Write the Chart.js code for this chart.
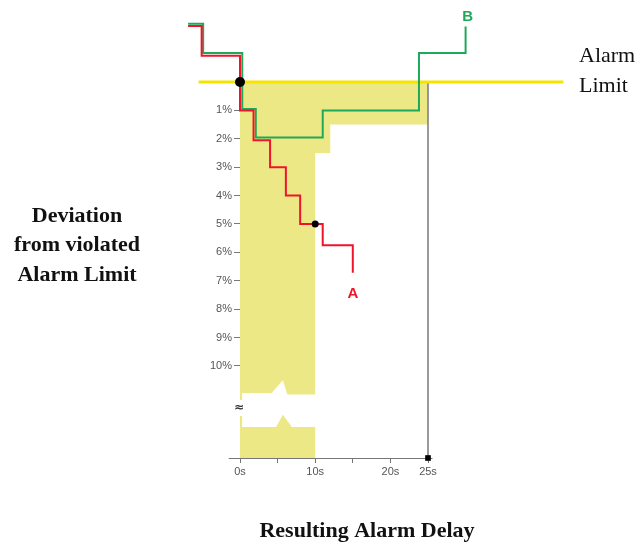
<!DOCTYPE html>
<html>
<head>
<meta charset="utf-8">
<script src="https://cdn.jsdelivr.net/npm/chart.js@4.4.1/dist/chart.umd.min.js"></script>
<style>
  html, body { margin: 0; padding: 0; background: #ffffff; }
  #wrap { width: 636px; height: 542px; }
</style>
</head>
<body>
<div id="wrap"><canvas id="chart" width="636" height="542"></canvas></div>
<script>
'use strict';

// axes
var X_TICKS  = [0, 5, 10, 15, 20, 25];
var X_LABELS = ['0s', '', '10s', '', '20s', '25s'];
var Y_TICKS  = [1, 2, 3, 4, 5, 6, 7, 8, 9, 10];
var Y_LABELS = ['1%', '2%', '3%', '4%', '5%', '6%', '7%', '8%', '9%', '10%'];
var Y_BOTTOM = 13.24;   // % deviation at the time axis (below the break)

// curve A (red), step points: seconds / % deviation
var RED_X = [-6.9, -5.1, 0, 1.8, 4.0, 6.1, 8.0, 11.0, 15.0];
var RED_Y = [-1.97, -0.92, 1.0, 2.05, 3.0, 4.0, 5.0, 5.75, 6.72];

// curve B (green)
var GREEN_X = [-6.9, -4.9, 0.3, 2.1, 11.0, 23.8, 30.0];
var GREEN_Y = [-2.05, -1.02, 0.95, 1.95, 1.0, -1.02, -1.95];

// alarm delay zone (yellow), outline of the zone below the limit
var ZONE_X = [0, 10, 10, 12, 12, 25];
var ZONE_Y = [Y_BOTTOM, Y_BOTTOM, 2.5, 2.5, 1.5, 1.5];

// alarm limit line
var LIMIT_X = [-5.5, 43];
var LIMIT_Y = [0, 0];

// markers
var DOT_X = [0, 10];
var DOT_Y = [0, 5];
var MAX_DELAY = 25;

function pts(xs, ys) {
    return xs.map(function (x, i) { return { x: x, y: ys[i] }; });
}

var SERIF = '"Liberation Serif", "Times New Roman", serif';
Chart.defaults.font.family = '"Liberation Sans", Arial, sans-serif';

/* Axis line of the time scale, drawn under the marks */
var timeAxisPlugin = {
    id: 'timeAxis',
    beforeDatasetsDraw: function (chart) {
        var ctx = chart.ctx;
        var xs = chart.scales.x, ys = chart.scales.y;
        var y = Math.round(ys.getPixelForValue(Y_BOTTOM)) + 0.5;
        ctx.save();
        ctx.strokeStyle = '#777777';
        ctx.lineWidth = 1;
        ctx.beginPath();
        ctx.moveTo(xs.getPixelForValue(-1.5), y);
        ctx.lineTo(xs.getPixelForValue(25.6), y);
        ctx.stroke();
        ctx.restore();
    }
};

/* Break on the y axis, annotations and titles */
var decorPlugin = {
    id: 'decor',
    afterDraw: function (chart) {
        var ctx = chart.ctx;
        var xs = chart.scales.x, ys = chart.scales.y;
        var px = function (v) { return xs.getPixelForValue(v); };
        var py = function (v) { return ys.getPixelForValue(v); };
        ctx.save();

        // torn gap in the yellow zone
        var gap = [[0.15, 10.95], [4.2, 10.95], [5.7, 10.5], [6.3, 11.0], [10.4, 11.0],
                   [10.4, 12.15], [6.9, 12.15], [5.7, 11.72], [4.8, 12.15], [0.15, 12.15]];
        ctx.fillStyle = '#ffffff';
        ctx.beginPath();
        gap.forEach(function (p, i) {
            var x = px(p[0]) + (p[0] < 1 ? 1 : 0);
            if (i === 0) ctx.moveTo(x, py(p[1]));
            else ctx.lineTo(x, py(p[1]));
        });
        ctx.closePath();
        ctx.fill();

        // gap in the axis and the break sign
        var ax = px(0);
        ctx.fillRect(ax - 4, py(11.2), 8, py(11.76) - py(11.2));
        ctx.fillStyle = '#333333';
        ctx.font = 'bold 12px "DejaVu Sans", sans-serif';
        ctx.textAlign = 'center';
        ctx.textBaseline = 'middle';
        ctx.fillText('\u2248', ax - 1, py(11.48));

        // curve labels
        ctx.font = 'bold 15px "Liberation Sans", Arial, sans-serif';
        ctx.fillStyle = '#f0142a';
        ctx.fillText('A', px(RED_X[RED_X.length - 1]), py(RED_Y[RED_Y.length - 1]) + 21);
        ctx.fillStyle = '#1ea85a';
        ctx.fillText('B', px(GREEN_X[GREEN_X.length - 1]) + 2, py(GREEN_Y[GREEN_Y.length - 1]) - 10);

        // titles
        ctx.fillStyle = '#111111';
        ctx.textBaseline = 'alphabetic';
        ctx.font = 'bold 22px ' + SERIF;
        ctx.fillText('Deviation', 77, 222);
        ctx.fillText('from violated', 77, 251);
        ctx.fillText('Alarm Limit', 77, 281);
        ctx.fillText('Resulting Alarm Delay', 367, 537);

        ctx.textAlign = 'left';
        ctx.font = '22px ' + SERIF;
        ctx.fillText('Alarm', 579, 62);
        ctx.fillText('Limit', 579, 92);
        ctx.restore();
    }
};

new Chart(document.getElementById('chart'), {
    type: 'line',
    data: {
        datasets: [
            {
                data: pts(DOT_X, DOT_Y),
                showLine: false,
                pointRadius: [5, 3.5],
                pointBackgroundColor: '#000000',
                pointBorderWidth: 0,
                clip: false,
                order: 0
            },
            {
                data: [{ x: MAX_DELAY, y: Y_BOTTOM }],
                showLine: false,
                pointStyle: 'rect',
                pointRadius: 4,
                pointBackgroundColor: '#000000',
                pointBorderWidth: 0,
                clip: false,
                order: 0
            },
            {
                data: pts(RED_X, RED_Y),
                stepped: true,
                borderColor: '#f0142a',
                borderWidth: 2,
                pointRadius: 0,
                fill: false,
                clip: false,
                order: 1
            },
            {
                data: pts(GREEN_X, GREEN_Y),
                stepped: true,
                borderColor: '#1ea85a',
                borderWidth: 2,
                pointRadius: 0,
                fill: false,
                clip: false,
                order: 2
            },
            {
                data: pts(LIMIT_X, LIMIT_Y),
                borderColor: '#f5e300',
                borderWidth: 3,
                pointRadius: 0,
                fill: false,
                clip: false,
                order: 3
            },
            {
                data: [{ x: MAX_DELAY, y: 0 }, { x: MAX_DELAY, y: Y_BOTTOM }],
                borderColor: '#7a7a7a',
                borderWidth: 1.5,
                pointRadius: 0,
                fill: false,
                clip: false,
                order: 4
            },
            {
                data: pts(ZONE_X, ZONE_Y),
                borderWidth: 0,
                borderColor: 'rgba(0,0,0,0)',
                backgroundColor: '#ece886',
                pointRadius: 0,
                fill: { value: 0 },
                order: 5
            }
        ]
    },
    options: {
        responsive: false,
        animation: false,
        events: [],
        layout: { padding: { top: 82, right: 208, bottom: 0, left: 0 } },
        plugins: {
            legend: { display: false },
            tooltip: { enabled: false }
        },
        scales: {
            x: {
                type: 'linear',
                bounds: 'data',
                // range set here (not via min/max) so the curves are not trimmed at 0s
                afterDataLimits: function (s) { s.min = 0; s.max = 25; },
                afterBuildTicks: function (s) {
                    s.ticks = X_TICKS.map(function (v) { return { value: v }; });
                },
                afterFit: function (s) { s.height = 542 - 458; },
                ticks: {
                    autoSkip: false,
                    maxRotation: 0,
                    padding: 2,
                    color: '#555555',
                    font: { size: 11 },
                    callback: function (v, i) { return X_LABELS[i]; }
                },
                grid: { drawOnChartArea: false, tickLength: 5, color: '#777777' },
                border: { display: false }
            },
            y: {
                type: 'linear',
                reverse: true,
                min: 0,
                max: Y_BOTTOM,
                bounds: 'data',
                z: 1,
                afterBuildTicks: function (s) {
                    s.ticks = Y_TICKS.map(function (v) { return { value: v }; });
                },
                afterFit: function (s) { s.width = 240; },
                ticks: {
                    autoSkip: false,
                    padding: 2,
                    color: '#555555',
                    font: { size: 11 },
                    callback: function (v, i) { return Y_LABELS[i]; }
                },
                grid: { drawOnChartArea: false, tickLength: 6, color: '#777777' },
                border: { display: true, color: '#777777', width: 1 }
            }
        }
    },
    plugins: [timeAxisPlugin, decorPlugin]
});
</script>
</body>
</html>
